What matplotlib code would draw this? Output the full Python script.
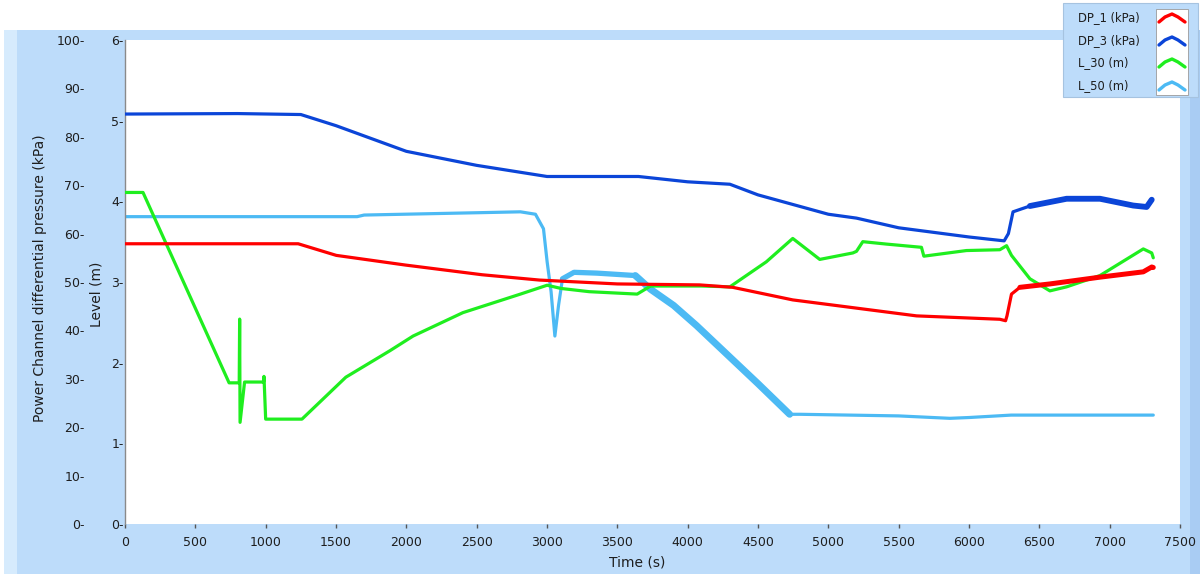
import matplotlib
matplotlib.use("Agg")
import matplotlib.pyplot as plt
from matplotlib.patches import Rectangle
from matplotlib.lines import Line2D

# ---- data -------------------------------------------------------------
dp1_t = [0, 800, 1231, 1502, 1994, 2538, 2946, 3500, 4085, 4320, 4747, 5174,
         5627, 6219, 6260, 6270, 6302, 6362, 6575, 6931, 7239, 7299, 7310]
dp1_kpa = [57.9, 57.9, 57.9, 55.5, 53.5, 51.5, 50.4, 49.6, 49.4, 48.9, 46.3, 44.7,
           43.0, 42.3, 42.0, 43.0, 47.5, 48.9, 49.6, 51.0, 52.1, 53.1, 53.0]

dp3_t = [0, 800, 1250, 1500, 2000, 2500, 3000, 3650, 4000, 4300, 4500, 5000,
         5200, 5500, 6000, 6250, 6280, 6313, 6433, 6694, 6931, 7167, 7263, 7299]
dp3_kpa = [84.7, 84.8, 84.6, 82.3, 77.0, 74.1, 71.8, 71.8, 70.7, 70.2, 68.0, 64.0,
           63.2, 61.2, 59.3, 58.5, 60.0, 64.5, 65.7, 67.2, 67.2, 65.8, 65.5, 67.0]

l30_t = [0, 128, 740, 812, 815, 818, 850, 985, 988, 1000, 1258, 1570, 1885, 2048,
         2402, 2811, 3001, 3100, 3300, 3641, 3736, 4100, 4300, 4559, 4747, 4939,
         5174, 5200, 5245, 5413, 5662, 5679, 5982, 6219, 6267, 6302, 6433, 6575,
         6694, 6931, 7239, 7299, 7310]
l30_m = [4.11, 4.11, 1.75, 1.75, 2.54, 1.26, 1.76, 1.76, 1.83, 1.30, 1.30, 1.82, 2.15, 2.33,
         2.62, 2.85, 2.96, 2.92, 2.88, 2.85, 2.95, 2.95, 2.94, 3.25, 3.54, 3.28,
         3.36, 3.38, 3.50, 3.47, 3.43, 3.32, 3.39, 3.40, 3.45, 3.33, 3.04, 2.89,
         2.94, 3.08, 3.41, 3.36, 3.30]

l50_t = [0, 1650, 1700, 2538, 2811, 2918, 2975, 3001, 3029, 3056, 3082, 3110,
         3192, 3355, 3628, 3736, 3900, 4063, 4500, 4725, 4800, 5500, 5864, 6000,
         6300, 7310]
l50_m = [3.81, 3.81, 3.83, 3.86, 3.87, 3.84, 3.66, 3.25, 2.88, 2.33, 2.71, 3.04,
         3.12, 3.11, 3.08, 2.91, 2.71, 2.46, 1.74, 1.36, 1.36, 1.34, 1.31, 1.32,
         1.35, 1.35]

series_names = ["DP_1 (kPa)", "DP_3 (kPa)", "L_30 (m)", "L_50 (m)"]
series_colors = ["#ff0000", "#0b45d8", "#1fee1f", "#4cbaf4"]

x_ticks = list(range(0, 7501, 500))
level_ticks = [0, 1, 2, 3, 4, 5, 6]
pressure_ticks = list(range(0, 101, 10))

# ---- figure -------------------------------------------------------------
W, H = 1200, 574
fig = plt.figure(figsize=(W / 100, H / 100), dpi=100)
fig.patch.set_facecolor("white")
plt.rcParams["font.family"] = ["DejaVu Sans"]

PANEL = "#bddcfa"


def fx(px):
    return px / W


def fy(py):
    return 1 - py / H


# panel background with lighter left strip and darker right edge
fig.add_artist(Rectangle((fx(4), 0), fx(1200 - 4), fy(30), transform=fig.transFigure,
                         facecolor=PANEL, edgecolor="none", zorder=0))
fig.add_artist(Rectangle((fx(4), 0), fx(13), fy(30), transform=fig.transFigure,
                         facecolor="#d6ebfd", edgecolor="none", zorder=0))
fig.add_artist(Rectangle((fx(1190), 0), fx(10), fy(30), transform=fig.transFigure,
                         facecolor="#a9ccf3", edgecolor="none", zorder=0))

ax = fig.add_axes([fx(125), fy(524), fx(1180 - 125), (524 - 40) / H])
ax.set_facecolor("white")
ax.set_xlim(0, 7500)
ax.set_ylim(0, 6)

ax2 = ax.twinx()
ax2.set_ylim(0, 100)
ax2.yaxis.tick_left()
ax2.yaxis.set_label_position("left")
ax2.spines["left"].set_position(("outward", 28))

for a in (ax, ax2):
    for s in a.spines.values():
        s.set_visible(False)
ax.spines["left"].set_visible(True)
ax.spines["left"].set_color("#8a8a8a")
ax.spines["left"].set_linewidth(1.0)

LW = 2.3
line_kw = dict(solid_joinstyle="round", solid_capstyle="round")
ax.plot(l30_t, l30_m, color=series_colors[2], lw=LW, zorder=3, **line_kw)
ax.plot(l50_t, l50_m, color=series_colors[3], lw=LW, zorder=2, **line_kw)
# noisy stretches drawn as wider bands
ax.plot(l50_t[11:15], l50_m[11:15], color=series_colors[3], lw=3.8, zorder=2, **line_kw)
ax.plot(l50_t[14:20], l50_m[14:20], color=series_colors[3], lw=5.0, zorder=2, **line_kw)
ax2.plot(dp1_t, dp1_kpa, color=series_colors[0], lw=LW, zorder=3, **line_kw)
ax2.plot(dp3_t, dp3_kpa, color=series_colors[1], lw=LW, zorder=3, **line_kw)
ax2.plot(dp1_t[17:], dp1_kpa[17:], color=series_colors[0], lw=3.6, zorder=3, **line_kw)
ax2.plot(dp3_t[18:], dp3_kpa[18:], color=series_colors[1], lw=4.2, zorder=3, **line_kw)

TXT = "#1e1e1e"
FS = 9
ax.set_xticks(x_ticks)
ax.set_xticklabels([str(v) for v in x_ticks])
ax.tick_params(axis="x", direction="out", length=3, width=1, color="#555555",
               pad=6, labelsize=FS, labelcolor=TXT)
ax.set_yticks(level_ticks)
ax.set_yticklabels([f"{v}-" for v in level_ticks])
ax.tick_params(axis="y", length=0, pad=1, labelsize=FS, labelcolor=TXT)
ax2.set_yticks(pressure_ticks)
ax2.set_yticklabels([f"{v}-" for v in pressure_ticks])
ax2.tick_params(axis="y", length=0, pad=1, labelsize=FS, labelcolor=TXT,
                left=True, right=False, labelleft=True, labelright=False)

fig.text(fx(637), fy(563), "Time (s)", ha="center", va="center", fontsize=10, color=TXT)
fig.text(fx(40), fy(278), "Power Channel differential pressure (kPa)", rotation=90,
         ha="center", va="center", fontsize=10, color=TXT)
fig.text(fx(97), fy(294), "Level (m)", rotation=90,
         ha="center", va="center", fontsize=10, color=TXT)

# legend panel
fig.add_artist(Rectangle((fx(1063), fy(97)), fx(1198 - 1063), (97 - 3) / H,
                         transform=fig.transFigure, facecolor=PANEL,
                         edgecolor="#a6c3e0", lw=0.8, zorder=5))
fig.add_artist(Rectangle((fx(1156), fy(95)), fx(1188 - 1156), (95 - 9) / H,
                         transform=fig.transFigure, facecolor="white",
                         edgecolor="#9a9a9a", lw=0.6, zorder=6))
rows_y = [18, 41, 63, 86]
for name, col, ry in zip(series_names, series_colors, rows_y):
    fig.text(fx(1078), fy(ry), name, ha="left", va="center", fontsize=8.3,
             color=TXT, zorder=7)
    xs = [fx(1159), fx(1165), fx(1172), fx(1178), fx(1185)]
    ys = [fy(ry + 4), fy(ry - 1), fy(ry - 4), fy(ry - 1), fy(ry + 4)]
    fig.add_artist(Line2D(xs, ys, transform=fig.transFigure, color=col, lw=2.4,
                          solid_joinstyle="round", solid_capstyle="round", zorder=8))

fig.savefig("out.png", dpi=100, facecolor=fig.get_facecolor())
